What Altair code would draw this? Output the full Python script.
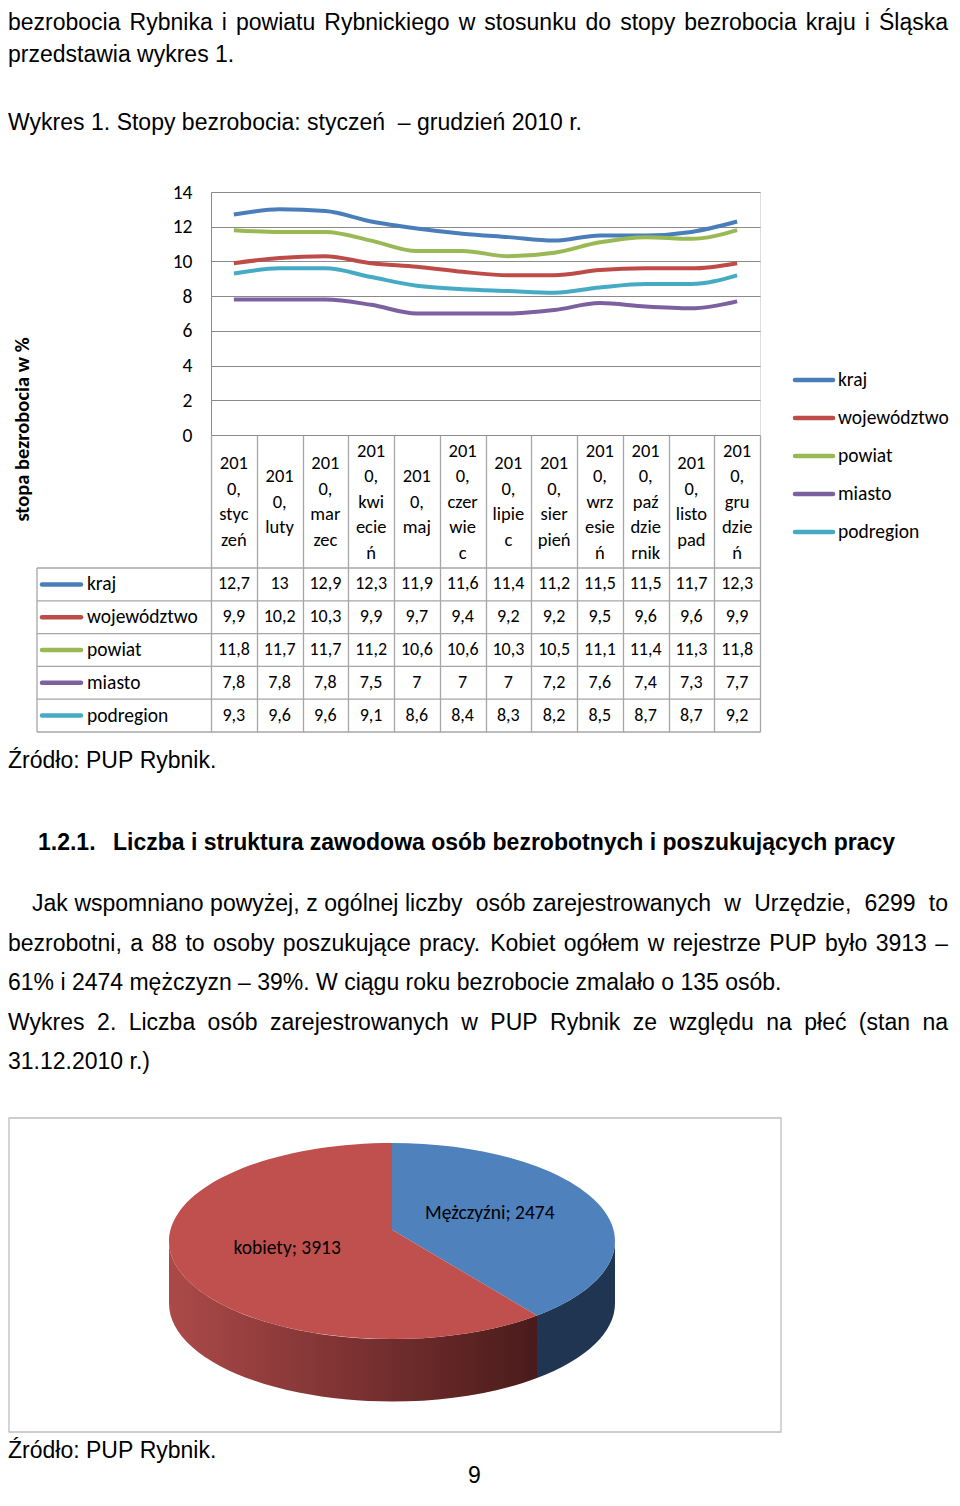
import re
import altair as alt
import pandas as pd

# ---------------- chart data ----------------
months = ["styczeń", "luty", "marzec", "kwiecień", "maj", "czerwiec",
          "lipiec", "sierpień", "wrzesień", "październik", "listopad", "grudzień"]
month_labels = ["201\n0,\nstyc\nzeń", "201\n0,\nluty", "201\n0,\nmar\nzec",
                "201\n0,\nkwi\necie\nń", "201\n0,\nmaj", "201\n0,\nczer\nwie\nc",
                "201\n0,\nlipie\nc", "201\n0,\nsier\npień", "201\n0,\nwrz\nesie\nń",
                "201\n0,\npaź\ndzie\nrnik", "201\n0,\nlisto\npad", "201\n0,\ngru\ndzie\nń"]
series = ["kraj", "województwo", "powiat", "miasto", "podregion"]
kraj = [12.7, 13, 12.9, 12.3, 11.9, 11.6, 11.4, 11.2, 11.5, 11.5, 11.7, 12.3]
wojewodztwo = [9.9, 10.2, 10.3, 9.9, 9.7, 9.4, 9.2, 9.2, 9.5, 9.6, 9.6, 9.9]
powiat = [11.8, 11.7, 11.7, 11.2, 10.6, 10.6, 10.3, 10.5, 11.1, 11.4, 11.3, 11.8]
miasto = [7.8, 7.8, 7.8, 7.5, 7, 7, 7, 7.2, 7.6, 7.4, 7.3, 7.7]
podregion = [9.3, 9.6, 9.6, 9.1, 8.6, 8.4, 8.3, 8.2, 8.5, 8.7, 8.7, 9.2]
series_colors = ["#4A7EBB", "#BE4B48", "#98B954", "#7D60A0", "#46AAC5"]
y_ticks = [0, 2, 4, 6, 8, 10, 12, 14]

pie_labels = ["Mężczyźni", "kobiety"]
pie_values = [2474, 3913]

# ---------------- page text ----------------
top_line1 = "bezrobocia Rybnika i powiatu Rybnickiego w stosunku do stopy bezrobocia kraju i Śląska"
top_line2 = "przedstawia wykres 1."
caption1 = "Wykres 1. Stopy bezrobocia: styczeń  – grudzień 2010 r."
source_txt = "Źródło: PUP Rybnik."
heading_num = "1.2.1."
heading_txt = "Liczba i struktura zawodowa osób bezrobotnych i poszukujących pracy"
para = [
    "Jak wspomniano powyżej, z ogólnej liczby  osób zarejestrowanych  w  Urzędzie,  6299  to",
    "bezrobotni, a 88 to osoby poszukujące pracy. Kobiet ogółem w rejestrze PUP było 3913 –",
    "61% i 2474 mężczyzn – 39%. W ciągu roku bezrobocie zmalało o 135 osób.",
    "Wykres 2. Liczba osób zarejestrowanych w PUP Rybnik ze względu na płeć (stan na",
    "31.12.2010 r.)",
]
page_no = "9"

# ---------------- layout helpers ----------------
OX, OY = 211, 192          # page position of the plot origin
W, H = 549, 243            # plot area of the line chart


def rx(px):
    return px - OX


def ry(py):
    return py - OY


FONT_DOC = "Liberation Sans, Arial, sans-serif"
FONT_XL = "Carlito, Lato, sans-serif"
GRID = "#8a8a8a"
TABLE = "#a6a6a6"

# Arial / Liberation Sans advance widths (1/1000 em) for justification
AW = {c: 556 for c in "0123456789"}
AW.update({" ": 278, "%": 889, "(": 333, ")": 333, ",": 278, ".": 278, ":": 278,
           ";": 278, "–": 556, "-": 333})
AW.update(dict(A=667, B=667, C=722, D=722, E=667, F=611, G=778, H=722, I=278, J=500,
               K=667, L=556, M=833, N=722, O=778, P=667, Q=778, R=722, S=667, T=611,
               U=722, V=667, W=944, X=667, Y=667, Z=611))
AW.update(dict(a=556, b=556, c=500, d=556, e=556, f=278, g=556, h=556, i=222, j=222,
               k=500, l=222, m=833, n=556, o=556, p=556, q=556, r=333, s=500, t=278,
               u=556, v=500, w=722, x=500, y=500, z=500))
AW.update({"ą": 556, "ć": 500, "ę": 556, "ł": 222, "ń": 556, "ó": 556, "ś": 500,
           "ź": 500, "ż": 500, "Ś": 667, "Ź": 611, "Ł": 556, "Ż": 611})


def tw(s, fs):
    return sum(AW.get(c, 556) for c in s) * fs / 1000.0


def place_line(text, x0, y, x1=None, fs=23):
    parts = re.split(r"( +)", text)
    nsp = text.count(" ")
    extra = 0.0
    if x1 is not None and nsp:
        extra = (x1 - x0 - tw(text, fs)) / nsp
    out, x = [], x0
    for p in parts:
        if not p:
            continue
        if p.startswith(" "):
            x += len(p) * (AW[" "] * fs / 1000.0 + extra)
        else:
            out.append({"word": p, "px": rx(x), "py": ry(y)})
            x += tw(p, fs)
    return out


words = []
words += place_line(top_line1, 8, 23, 948)
words += place_line(top_line2, 8, 55)
words += place_line(caption1, 8, 123)
words += place_line(source_txt, 8, 761)
words += place_line(para[0], 32, 904, 948)
words += place_line(para[1], 8, 944, 948)
words += place_line(para[2], 8, 983)
words += place_line(para[3], 8, 1023, 948)
words += place_line(para[4], 8, 1062)
words += place_line(source_txt, 8, 1451)
words += place_line(page_no, 468, 1476)
words_df = pd.DataFrame(words)
bold_df = pd.DataFrame([{"word": heading_num, "px": rx(38), "py": ry(843)},
                        {"word": heading_txt, "px": rx(113), "py": ry(843)}])

# ---------------- data frames ----------------
vals = {"kraj": kraj, "województwo": wojewodztwo, "powiat": powiat,
        "miasto": miasto, "podregion": podregion}
rows = []
for s in series:
    for i, m in enumerate(months):
        rows.append({"series": s, "month": m, "idx": i, "value": vals[s][i]})
df = pd.DataFrame(rows)
hdr_df = pd.DataFrame({"month": months, "label": month_labels})
sdf = pd.DataFrame({"series": series})
one = pd.DataFrame({"k": [0]})
pie_df = pd.DataFrame({"name": pie_labels, "value": pie_values, "ord": [0, 1]})

# ---------------- scales ----------------
xscale = alt.Scale(type="band", domain=months, paddingInner=0, paddingOuter=0)
row_scale = alt.Scale(type="band", domain=series, range=[ry(568), ry(732)],
                      paddingInner=0, paddingOuter=0)
leg_scale = alt.Scale(type="point", domain=series, range=[ry(380), ry(532)], padding=0)
color = alt.Color("series:N", scale=alt.Scale(domain=series, range=series_colors), legend=None)

x_axis = alt.Axis(orient="bottom", labels=False, title=None, domain=False, grid=False,
                  ticks=True, tickBand="extent", tickSize=ry(732) - ry(435),
                  tickColor=TABLE, tickWidth=1.3)
y_axis = alt.Axis(orient="left", values=y_ticks, grid=True, gridColor=GRID, gridWidth=1,
                  ticks=False, tickSize=0, domain=True, domainColor=GRID, domainWidth=1,
                  labelFont=FONT_XL, labelFontSize=19.5, labelColor="#000", labelPadding=19,
                  title="stopa bezrobocia w %", titleFont=FONT_XL, titleFontSize=20.5,
                  titleFontWeight="bold", titleColor="#000", titleX=rx(22), titleY=ry(429),
                  titleAngle=270, titleAlign="center", titleBaseline="middle")

# ---------------- line chart ----------------
lines = alt.Chart(df).mark_line(strokeWidth=4, interpolate="monotone").encode(
    x=alt.X("month:N", scale=xscale, axis=x_axis, bandPosition=0.5),
    y=alt.Y("value:Q", scale=alt.Scale(domain=[0, 14], nice=False), axis=y_axis),
    color=color,
    order=alt.Order("idx:Q"),
)

LH = 25.5
HDR_MID = (ry(435) + ry(568)) / 2
header = alt.Chart(hdr_df).transform_calculate(
    yy=f"{HDR_MID} - (length(split(datum.label, '\\n')) - 1) * {LH} / 2"
).mark_text(
    font=FONT_XL, fontSize=18.5, lineBreak="\n", lineHeight=LH,
    baseline="middle", align="center", color="#000"
).encode(
    x=alt.X("month:N", scale=xscale, axis=None, bandPosition=0.5),
    y=alt.Y("yy:Q", scale=None),
    text="label:N",
)

cells = alt.Chart(df).transform_calculate(
    txt="replace(toString(datum.value), '.', ',')"
).mark_text(font=FONT_XL, fontSize=18, baseline="middle", align="center", color="#000").encode(
    x=alt.X("month:N", scale=xscale, axis=None, bandPosition=0.5),
    y=alt.Y("series:N", scale=row_scale, axis=None, bandPosition=0.5),
    text="txt:N",
)

row_names = alt.Chart(sdf).mark_text(
    font=FONT_XL, fontSize=19.5, align="left", baseline="middle", color="#000"
).encode(
    x=alt.value(rx(87)),
    y=alt.Y("series:N", scale=row_scale, axis=None, bandPosition=0.5),
    text="series:N",
)

row_sw = alt.Chart(sdf).mark_rule(strokeWidth=4.5, strokeCap="round").encode(
    x=alt.value(rx(42)), x2=alt.value(rx(81)),
    y=alt.Y("series:N", scale=row_scale, axis=None, bandPosition=0.5),
    color=color,
)

row_lines = alt.Chart(sdf).mark_rule(color=TABLE, strokeWidth=1.3).encode(
    x=alt.value(rx(37)), x2=alt.value(rx(760)),
    y=alt.Y("series:N", scale=row_scale, axis=None, bandPosition=0),
)
bottom_line = alt.Chart(one).mark_rule(color=TABLE, strokeWidth=1.3).encode(
    x=alt.value(rx(37)), x2=alt.value(rx(760)), y=alt.value(ry(732)))
left_line = alt.Chart(one).mark_rule(color=TABLE, strokeWidth=1.3).encode(
    x=alt.value(rx(37)), y=alt.value(ry(568)), y2=alt.value(ry(732)))

leg_sw = alt.Chart(sdf).mark_rule(strokeWidth=4.5, strokeCap="round").encode(
    x=alt.value(rx(795)), x2=alt.value(rx(833)),
    y=alt.Y("series:N", scale=leg_scale, axis=None),
    color=color,
)
leg_txt = alt.Chart(sdf).mark_text(
    font=FONT_XL, fontSize=19.5, align="left", baseline="middle", color="#000"
).encode(
    x=alt.value(rx(838)),
    y=alt.Y("series:N", scale=leg_scale, axis=None),
    text="series:N",
)

# ---------------- document text ----------------
words_layer = alt.Chart(words_df).mark_text(
    font=FONT_DOC, fontSize=23, align="left", baseline="middle", color="#000"
).encode(x=alt.X("px:Q", scale=None), y=alt.Y("py:Q", scale=None), text="word:N")
bold_layer = alt.Chart(bold_df).mark_text(
    font=FONT_DOC, fontSize=23, fontWeight="bold", align="left", baseline="middle", color="#000"
).encode(x=alt.X("px:Q", scale=None), y=alt.Y("py:Q", scale=None), text="word:N")

# ---------------- 3D pie ----------------
B, D, DL = 0.44, 0.28, 0.05     # ellipse ratio, depth, apex offset (unit = semi-major axis)
A_PX = 223                       # semi-major axis in px
PCX, PCY = rx(392), ry(1241)     # pie centre


def r4(e):
    return f"(round(({e})*10000)/10000)"


top_expr = (f"'M0,-{DL} L' + {r4('sin(datum.s)')} + ',' + {r4(f'-{B}*cos(datum.s)')}"
            f" + ' A1,{B} 0 ' + (datum.e - datum.s > PI ? '1' : '0') + ',1 '"
            f" + {r4('sin(datum.e)')} + ',' + {r4(f'-{B}*cos(datum.e)')} + ' Z'")
side_expr = (f"'M' + {r4('sin(datum.s2)')} + ',' + {r4(f'-{B}*cos(datum.s2)')}"
             f" + ' A1,{B} 0 0,1 ' + {r4('sin(datum.e2)')} + ',' + {r4(f'-{B}*cos(datum.e2)')}"
             f" + ' L' + {r4('sin(datum.e2)')} + ',' + {r4(f'-{B}*cos(datum.e2)+{D}')}"
             f" + ' A1,{B} 0 0,0 ' + {r4('sin(datum.s2)')} + ',' + {r4(f'-{B}*cos(datum.s2)+{D}')}"
             f" + ' Z'")

pie_base = alt.Chart(pie_df).transform_joinaggregate(
    total="sum(value)"
).transform_window(
    cum="sum(value)", sort=[alt.SortField("ord")], frame=[None, 0]
).transform_calculate(
    s="2*PI*(datum.cum - datum.value)/datum.total",
    e="2*PI*datum.cum/datum.total",
)

pie_enc = dict(x=alt.value(PCX), y=alt.value(PCY), size=alt.value((2 * A_PX) ** 2),
               shape=alt.Shape("path:N", scale=None, legend=None))

side_base = pie_base.transform_calculate(
    s2="max(datum.s, PI/2)", e2="min(datum.e, 3*PI/2)"
).transform_filter("datum.s2 < datum.e2").transform_calculate(path=side_expr)

red_grad = alt.Gradient(
    gradient="linear", x1=0, y1=0, x2=1, y2=0,
    stops=[alt.GradientStop(color="#AC4949", offset=0),
           alt.GradientStop(color="#7C3232", offset=0.5),
           alt.GradientStop(color="#4A1B1B", offset=1)])

side_red = side_base.transform_filter(alt.datum.name == "kobiety").mark_point(
    filled=True, opacity=1, fill=red_grad, strokeWidth=0).encode(**pie_enc)
side_blue = side_base.transform_filter(alt.datum.name == "Mężczyźni").mark_point(
    filled=True, opacity=1, fill="#1F3552", strokeWidth=0).encode(**pie_enc)

top_base = pie_base.transform_calculate(path=top_expr)
top_red = top_base.transform_filter(alt.datum.name == "kobiety").mark_point(
    filled=True, opacity=1, fill="#C0504D", strokeWidth=0).encode(**pie_enc)
top_blue = top_base.transform_filter(alt.datum.name == "Mężczyźni").mark_point(
    filled=True, opacity=1, fill="#4F81BD", strokeWidth=0).encode(**pie_enc)

pie_lbl = pie_base.transform_calculate(
    m="(datum.s + datum.e)/2",
    lbl="datum.name + '; ' + datum.value",
    lx=f"{rx(388.5)} + 108*sin(datum.m)",
    ly=f"{ry(1230.5)} - 50.4*cos(datum.m)",
).mark_text(font=FONT_XL, fontSize=19.5, align="center", baseline="middle", color="#000").encode(
    x=alt.X("lx:Q", scale=None), y=alt.Y("ly:Q", scale=None), text="lbl:N")

frame = alt.Chart(one).mark_rect(fill="white", stroke="#BFBFBF", strokeWidth=1.3).encode(
    x=alt.value(rx(9)), x2=alt.value(rx(781)), y=alt.value(ry(1118)), y2=alt.value(ry(1432)))

# ---------------- compose ----------------
chart = alt.layer(
    frame, side_red, side_blue, top_blue, top_red, pie_lbl,
    row_lines, bottom_line, left_line, header, cells, row_names, row_sw,
    leg_sw, leg_txt, words_layer, bold_layer, lines,
).resolve_scale(
    x="independent", y="independent"
).properties(
    width=W, height=H,
    padding={"left": OX - 8, "top": OY - 8, "right": 944 - (OX - 8) - W,
             "bottom": 1484 - (OY - 8) - H},
    autosize=alt.AutoSizeParams(type="none"),
).configure_view(stroke=None).configure(background="white")

chart.save("out.html", embed_options={"renderer": "svg", "actions": False})
